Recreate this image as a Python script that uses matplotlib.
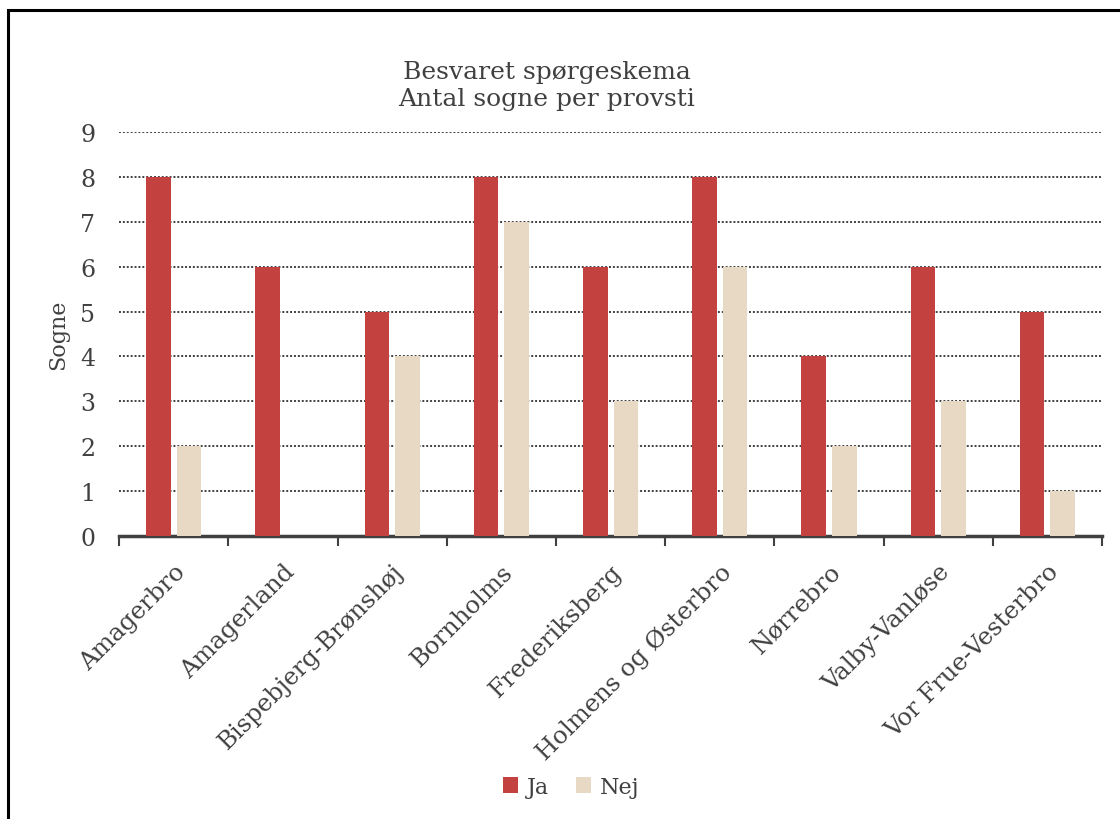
import matplotlib.pyplot as plt
import numpy as np
from matplotlib.patches import Rectangle

provstier = ["Amagerbro", "Amagerland", "Bispebjerg-Brønshøj", "Bornholms",
             "Frederiksberg", "Holmens og Østerbro", "Nørrebro",
             "Valby-Vanløse", "Vor Frue-Vesterbro"]
ja = [8, 6, 5, 8, 6, 8, 4, 6, 5]
nej = [2, 0, 4, 7, 3, 6, 2, 3, 1]

plt.rcParams['font.family'] = ['DejaVu Serif']
txt = '#404040'

fig = plt.figure(figsize=(11.2, 8.2), dpi=100)
ax = fig.add_axes([0.1063, 0.3451, 0.8777, 0.4927])

# ramme rundt om diagrammet (går ud over billedet til højre/nederst)
fig.patches.append(Rectangle((8/1120, -0.05), 1.2, 1 - 11/820 + 0.05,
                             transform=fig.transFigure, fill=False,
                             edgecolor='black', linewidth=2.2))

x = np.arange(len(provstier))
w = 0.225
ax.bar(x - 0.14, ja, w, color='#C3413F', label='Ja', zorder=3)
ax.bar(x + 0.14, nej, w, color='#E8D9C4', label='Nej', zorder=3)

ax.set_xlim(-0.5, len(provstier) - 0.5)
ax.set_ylim(0, 9)
ax.set_yticks(range(0, 10))
ax.yaxis.grid(True, linestyle=(0, (1, 1)), color='#404040', linewidth=1.4, zorder=0)

ax.set_xticks(x)
ax.set_xticklabels(provstier, rotation=45, ha='right', rotation_mode='anchor',
                   fontsize=17.5, color=txt)
ax.tick_params(axis='x', length=0, pad=17)
ax.set_xticks(np.arange(-0.5, len(provstier)), minor=True)
ax.tick_params(axis='x', which='minor', length=7, width=1.5, color='#404040')
ax.tick_params(axis='y', length=0, labelsize=17, labelcolor=txt, pad=17)

for s in ['top', 'right', 'left']:
    ax.spines[s].set_visible(False)
ax.spines['bottom'].set_color('#404040')
ax.spines['bottom'].set_linewidth(2.5)

ax.set_ylabel("Sogne", fontsize=16, color=txt, labelpad=8)
fig.text(0.488, 0.895, "Besvaret spørgeskema\nAntal sogne per provsti",
         ha='center', va='center', fontsize=18, color=txt, linespacing=1.25)

fig.legend(loc='center', bbox_to_anchor=(0.51, 0.039), ncol=2, frameon=False,
           fontsize=16, labelcolor=txt, handlelength=0.7, handleheight=0.7,
           handletextpad=0.4, columnspacing=1.2)

fig.savefig('out.png', dpi=100)
